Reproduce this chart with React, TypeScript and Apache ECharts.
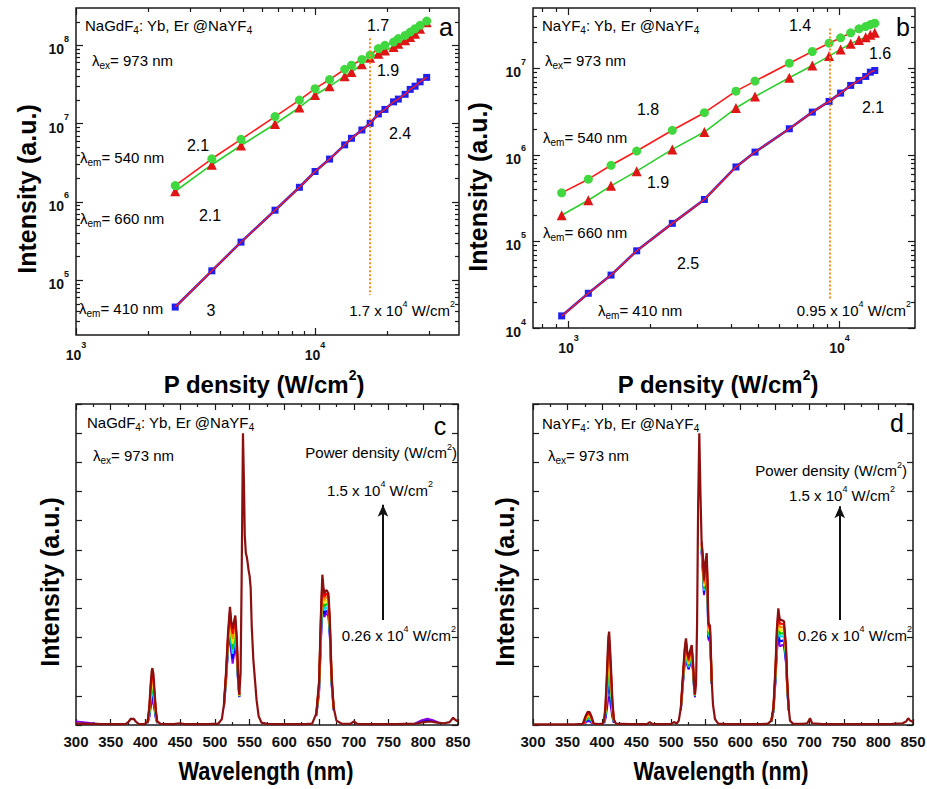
import React, { useEffect, useRef } from 'react';
import * as echarts from 'echarts';

// ---------- Panel a : NaGdF4:Yb,Er@NaYF4, intensity vs power density ----------
const A_P = [2600, 3700, 4900, 6800, 8600, 10000, 11500, 13300, 14200, 15700, 17000, 18400, 19600, 21300, 22300, 23800, 25000, 26200, 27500, 29300];
const A_540 = [1.62e6, 3.56e6, 6.3e6, 1.23e7, 2.0e7, 2.8e7, 3.66e7, 4.95e7, 5.57e7, 6.6e7, 7.5e7, 9.1e7, 1.0e8, 1.1e8, 1.22e8, 1.34e8, 1.48e8, 1.63e8, 1.8e8, 2.04e8];
const A_660 = [1.37e6, 2.99e6, 5.26e6, 9.9e6, 1.61e7, 2.32e7, 3.0e7, 4.04e7, 4.58e7, 5.74e7, 6.97e7, 7.8e7, 8.6e7, 9.5e7, 1.05e8, 1.16e8, 1.28e8, 1.41e8, 1.63e8, 1.98e8];
const A_410 = [4.55e4, 1.32e5, 3.07e5, 7.85e5, 1.54e6, 2.45e6, 3.53e6, 5.36e6, 6.5e6, 8.3e6, 1.01e7, 1.33e7, 1.52e7, 1.9e7, 2.06e7, 2.37e7, 2.74e7, 3.01e7, 3.42e7, 3.9e7];
const A_XRANGE = [1000, 40000];
const A_YRANGE = [2e4, 3e8];
const A_VLINE = [17000, 1.23e8, 6.5e4];

// ---------- Panel b : NaYF4:Yb,Er@NaYF4 ----------
const B_P = [944, 1184, 1436, 1786, 2417, 3174, 4150, 4880, 6532, 7940, 9155, 10100, 11000, 11800, 12500, 13000, 13500];
const B_540 = [3.65e5, 5.25e5, 7.6e5, 1.11e6, 1.93e6, 3.08e6, 5.47e6, 7.14e6, 1.15e7, 1.57e7, 1.96e7, 2.26e7, 2.58e7, 2.87e7, 3.05e7, 3.22e7, 3.33e7];
const B_660 = [2.01e5, 3.0e5, 4.4e5, 6.5e5, 1.16e6, 1.84e6, 3.49e6, 4.75e6, 7.8e6, 1.08e7, 1.39e7, 1.66e7, 1.93e7, 2.14e7, 2.3e7, 2.45e7, 2.58e7];
const B_410 = [1.38e4, 2.52e4, 4.09e4, 7.8e4, 1.62e5, 3.06e5, 7.27e5, 1.08e6, 2.01e6, 3.13e6, 4.16e6, 5.19e6, 6.37e6, 7.27e6, 8.09e6, 9.06e6, 9.48e6];
const B_XRANGE = [740, 19000];
const B_YRANGE = [1e4, 5e7];
const B_VLINE = [9200, 2.9e7, 2.2e4];

// ---------- Spectra ----------
const SPEC_COLORS = ['#ff0000', '#ff8c00', '#f2e600', '#00cc00', '#00d8ff', '#0000ff', '#8a00e6'];
const TOP_COLOR = '#8c1010';

// Panel c
const C_W = [300, 320, 340, 360, 372, 376, 379, 381, 383, 386, 390, 398, 403, 405.5, 407.5, 409, 410, 411.5, 413, 415, 417, 422, 440, 450, 456, 470, 490, 505, 510, 513, 516, 519, 521.7, 523.5, 525.5, 527.5, 529.4, 531.5, 533.5, 535.2, 537, 538.5, 540.4, 541.8, 543, 544.5, 546, 547.2, 548.5, 550, 551.5, 553, 555.3, 557.5, 560, 563, 567, 575, 590, 610, 630, 640, 646, 650, 652.5, 654.7, 656.3, 657.5, 659.2, 661, 663.5, 665.5, 668, 671, 675, 682, 695, 700, 705, 720, 760, 790, 800, 810, 820, 830, 838, 843, 846, 850];
const C_TOP = [0.05, 0.04, 0.03, 0.03, 0.04, 0.12, 0.22, 0.2, 0.22, 0.12, 0.04, 0.03, 0.1, 0.6, 1.4, 1.85, 1.95, 1.75, 1.2, 0.5, 0.12, 0.04, 0.03, 0.06, 0.03, 0.03, 0.03, 0.05, 0.2, 0.7, 1.8, 3.2, 4.05, 3.55, 3.3, 3.55, 3.75, 3.0, 1.7, 1.05, 1.8, 5.0, 10.0, 8.3, 6.5, 5.9, 5.75, 5.55, 5.3, 5.1, 4.7, 3.4, 2.25, 1.6, 0.85, 0.3, 0.08, 0.04, 0.03, 0.03, 0.03, 0.05, 0.4, 1.5, 3.7, 5.15, 4.7, 4.5, 4.6, 4.62, 4.5, 3.6, 1.7, 0.6, 0.15, 0.05, 0.04, 0.12, 0.04, 0.03, 0.03, 0.05, 0.1, 0.12, 0.08, 0.06, 0.1, 0.25, 0.18, 0.12];
const C_410_W = [403, 405.5, 407.5, 409, 410, 411.5, 413, 415, 417];
const C_410 = [
  [0.1, 0.55, 1.3, 1.68, 1.75, 1.58, 1.1, 0.45, 0.1],
  [0.1, 0.5, 1.15, 1.5, 1.58, 1.42, 1.0, 0.42, 0.1],
  [0.1, 0.45, 1.05, 1.35, 1.42, 1.28, 0.9, 0.38, 0.1],
  [0.08, 0.4, 0.95, 1.2, 1.27, 1.14, 0.8, 0.34, 0.08],
  [0.08, 0.35, 0.85, 1.07, 1.13, 1.02, 0.72, 0.3, 0.08],
  [0.07, 0.3, 0.72, 0.92, 0.98, 0.88, 0.62, 0.26, 0.07],
  [0.06, 0.25, 0.6, 0.78, 0.83, 0.75, 0.53, 0.22, 0.06],
];
const C_520_W = [513, 516, 519, 521.7, 523.5, 525.5, 527.5, 529.4, 531.5, 533.5, 535.2];
const C_520 = [
  [0.7, 1.75, 3.1, 3.92, 3.4, 3.12, 3.38, 3.6, 2.9, 1.65, 1.03],
  [0.68, 1.7, 3.0, 3.8, 3.25, 2.95, 3.22, 3.48, 2.8, 1.6, 1.02],
  [0.66, 1.66, 2.92, 3.68, 3.1, 2.78, 3.06, 3.34, 2.7, 1.56, 1.0],
  [0.65, 1.62, 2.84, 3.56, 2.95, 2.6, 2.9, 3.2, 2.6, 1.52, 0.99],
  [0.63, 1.58, 2.76, 3.44, 2.8, 2.44, 2.74, 3.06, 2.5, 1.48, 0.98],
  [0.62, 1.54, 2.68, 3.32, 2.65, 2.27, 2.57, 2.93, 2.4, 1.44, 0.96],
  [0.6, 1.5, 2.6, 3.2, 2.5, 2.1, 2.4, 2.8, 2.3, 1.4, 0.95],
];
const C_660_W = [646, 650, 652.5, 654.7, 656.3, 657.5, 659.2, 661, 663.5, 665.5, 668, 671];
const C_660 = [
  [0.38, 1.45, 3.58, 5.0, 4.57, 4.38, 4.47, 4.5, 4.38, 3.5, 1.66, 0.58],
  [0.37, 1.4, 3.45, 4.85, 4.45, 4.27, 4.35, 4.38, 4.27, 3.42, 1.62, 0.57],
  [0.36, 1.35, 3.3, 4.7, 4.33, 4.16, 4.24, 4.26, 4.16, 3.34, 1.58, 0.56],
  [0.35, 1.3, 3.15, 4.55, 4.2, 4.04, 4.12, 4.15, 4.05, 3.26, 1.54, 0.55],
  [0.34, 1.25, 3.02, 4.4, 4.07, 3.92, 4.0, 4.03, 3.93, 3.18, 1.5, 0.54],
  [0.33, 1.2, 2.9, 4.25, 3.93, 3.8, 3.88, 3.92, 3.82, 3.1, 1.45, 0.52],
  [0.3, 1.1, 2.75, 4.1, 3.8, 3.7, 3.78, 3.83, 3.72, 3.02, 1.4, 0.5],
];
const C_LOW_W = [300, 310, 320, 332];
const C_LOW_VIOLET = [0.12, 0.1, 0.07, 0.04];
const C_800_W = [788, 798, 806, 814, 824];
const C_800_BLUE = [0.05, 0.14, 0.18, 0.14, 0.06];
const C_800_VIOLET = [0.05, 0.17, 0.22, 0.17, 0.07];
const C_ARROW = [742, 3.6, 7.55];

// Panel d
const D_W = [300, 330, 360, 372, 376, 379, 382, 384.5, 388, 395, 401, 403, 405, 407, 409, 410.2, 411.5, 413, 415, 417, 420, 440, 465, 469, 473, 490, 500, 504, 508, 511, 514, 517, 519.5, 521.4, 523.3, 525.3, 527.5, 529.7, 531.5, 533, 534.5, 536, 537.5, 539, 540.7, 542.3, 544, 545.6, 547.5, 549.5, 551.4, 552.8, 553.8, 556.2, 557.5, 558.6, 560.5, 563.4, 568, 580, 600, 630, 640, 645, 648, 651, 653, 655.1, 656.3, 657.5, 659.5, 661.4, 663.3, 664.8, 666.2, 668, 670, 672, 676, 690, 697, 701, 704, 720, 780, 820, 835, 840, 843, 846, 850];
const D_TOP = [0.02, 0.02, 0.02, 0.04, 0.3, 0.45, 0.44, 0.3, 0.05, 0.03, 0.05, 0.15, 0.7, 1.8, 3.0, 3.2, 2.65, 1.9, 0.8, 0.2, 0.05, 0.03, 0.03, 0.1, 0.03, 0.03, 0.04, 0.1, 0.05, 0.15, 0.6, 1.7, 2.6, 2.97, 2.5, 2.3, 2.55, 2.74, 2.2, 1.5, 1.05, 1.4, 3.5, 7.5, 10, 8.0, 6.3, 5.85, 5.0, 5.6, 5.89, 4.8, 3.5, 3.4, 2.5, 1.55, 0.7, 0.2, 0.05, 0.03, 0.03, 0.03, 0.05, 0.15, 0.6, 2.0, 3.3, 4.0, 3.75, 3.6, 3.6, 3.58, 3.55, 3.1, 2.69, 1.5, 0.6, 0.15, 0.05, 0.04, 0.06, 0.23, 0.06, 0.03, 0.03, 0.04, 0.06, 0.12, 0.23, 0.15, 0.1];
const D_380_W = [374, 376, 379, 382, 384.5, 387];
const D_380 = [
  [0.04, 0.26, 0.4, 0.39, 0.26, 0.05],
  [0.04, 0.23, 0.35, 0.34, 0.23, 0.05],
  [0.04, 0.2, 0.3, 0.3, 0.2, 0.04],
  [0.03, 0.17, 0.26, 0.25, 0.17, 0.04],
  [0.03, 0.14, 0.22, 0.21, 0.14, 0.04],
  [0.03, 0.11, 0.18, 0.17, 0.11, 0.03],
  [0.03, 0.08, 0.14, 0.13, 0.08, 0.03],
];
const D_410_W = [403, 405, 407, 409, 410.2, 411.5, 413, 415, 417];
const D_410 = [
  [0.13, 0.63, 1.63, 2.72, 2.9, 2.42, 1.73, 0.73, 0.18],
  [0.12, 0.57, 1.46, 2.44, 2.6, 2.17, 1.55, 0.66, 0.16],
  [0.11, 0.5, 1.3, 2.16, 2.3, 1.92, 1.37, 0.58, 0.15],
  [0.1, 0.44, 1.13, 1.88, 2.0, 1.67, 1.19, 0.5, 0.13],
  [0.09, 0.37, 0.96, 1.6, 1.7, 1.42, 1.01, 0.43, 0.11],
  [0.08, 0.3, 0.76, 1.27, 1.35, 1.13, 0.8, 0.34, 0.09],
  [0.06, 0.22, 0.55, 0.91, 0.97, 0.81, 0.58, 0.25, 0.07],
];
const D_520_W = [514, 517, 519.5, 521.4, 523.3, 525.3, 527.5, 529.7, 531.5, 533, 534.5];
const D_520 = [
  [0.58, 1.65, 2.52, 2.9, 2.42, 2.22, 2.47, 2.67, 2.14, 1.47, 1.04],
  [0.57, 1.6, 2.45, 2.82, 2.35, 2.15, 2.4, 2.6, 2.09, 1.44, 1.03],
  [0.56, 1.56, 2.38, 2.75, 2.28, 2.09, 2.33, 2.53, 2.04, 1.41, 1.02],
  [0.55, 1.52, 2.31, 2.68, 2.21, 2.03, 2.26, 2.46, 1.99, 1.38, 1.01],
  [0.54, 1.48, 2.24, 2.6, 2.15, 1.98, 2.2, 2.4, 1.94, 1.35, 1.0],
  [0.52, 1.44, 2.17, 2.52, 2.1, 1.94, 2.15, 2.35, 1.9, 1.32, 0.98],
  [0.5, 1.4, 2.1, 2.45, 2.05, 1.9, 2.1, 2.3, 1.85, 1.3, 0.95],
];
const D_550_W = [544, 545.6, 547.5, 549.5, 551.4, 552.8, 553.8, 556.2, 557.5, 558.6];
const D_550 = [
  [6.25, 5.78, 4.92, 5.5, 5.78, 4.7, 3.42, 3.32, 2.45, 1.52],
  [6.2, 5.7, 4.84, 5.4, 5.66, 4.6, 3.34, 3.24, 2.4, 1.5],
  [6.15, 5.62, 4.76, 5.3, 5.54, 4.5, 3.26, 3.16, 2.35, 1.48],
  [6.1, 5.55, 4.68, 5.2, 5.42, 4.4, 3.18, 3.08, 2.3, 1.46],
  [6.05, 5.48, 4.6, 5.1, 5.3, 4.3, 3.1, 3.0, 2.25, 1.44],
  [6.0, 5.42, 4.52, 5.0, 5.18, 4.2, 3.02, 2.92, 2.2, 1.42],
  [5.95, 5.36, 4.45, 4.9, 5.06, 4.1, 2.95, 2.85, 2.15, 1.4],
];
const D_660_W = [645, 648, 651, 653, 655.1, 656.3, 657.5, 659.5, 661.4, 663.3, 664.8, 666.2, 668, 670];
const D_660 = [
  [0.15, 0.58, 1.93, 3.2, 3.87, 3.62, 3.47, 3.47, 3.46, 3.43, 3.0, 2.6, 1.46, 0.59],
  [0.14, 0.56, 1.86, 3.1, 3.74, 3.5, 3.35, 3.36, 3.35, 3.32, 2.92, 2.52, 1.42, 0.58],
  [0.14, 0.54, 1.79, 3.0, 3.61, 3.38, 3.24, 3.25, 3.24, 3.21, 2.83, 2.44, 1.38, 0.57],
  [0.13, 0.52, 1.72, 2.9, 3.48, 3.26, 3.13, 3.14, 3.14, 3.1, 2.75, 2.36, 1.34, 0.56],
  [0.13, 0.5, 1.65, 2.8, 3.36, 3.14, 3.02, 3.04, 3.04, 3.0, 2.66, 2.28, 1.3, 0.55],
  [0.12, 0.48, 1.58, 2.65, 3.18, 2.97, 2.86, 2.88, 2.9, 2.85, 2.53, 2.19, 1.25, 0.52],
  [0.12, 0.45, 1.5, 2.5, 3.0, 2.8, 2.7, 2.72, 2.75, 2.7, 2.4, 2.1, 1.2, 0.5],
];
const D_ARROW = [744, 3.6, 7.5];

const SPEC_XRANGE = [300, 850];
const SPEC_YRANGE = [0, 11];

// ---------- styling ----------
const FONT = '"Liberation Sans", Arial, Helvetica, sans-serif';
const TICK = { color: '#1a1a1a', width: 1.2 };

const GRIDS = [
  { left: 76, top: 8, width: 383, height: 327 },
  { left: 533, top: 8, width: 382, height: 320 },
  { left: 76, top: 404, width: 382, height: 321 },
  { left: 533, top: 404, width: 380, height: 321 },
];

const zip = (xs: number[], ys: number[]) => xs.slice(0, Math.min(xs.length, ys.length)).map((x, i) => [x, ys[i]]);

function majorTicks(min: number, max: number) {
  const out: number[] = [];
  for (let e = Math.ceil(Math.log10(min) - 1e-9); e <= Math.floor(Math.log10(max) + 1e-9); e++) out.push(Math.pow(10, e));
  return out;
}
function minorTicks(min: number, max: number) {
  const out: number[] = [];
  for (let e = Math.floor(Math.log10(min)); e <= Math.ceil(Math.log10(max)); e++) {
    for (let m = 2; m <= 9; m++) {
      const v = m * Math.pow(10, e);
      if (v > min * 1.0001 && v < max * 0.9999) out.push(v);
    }
  }
  return out;
}

const POW_RICH = {
  b: { fontSize: 14, fontWeight: 'bold', fontFamily: FONT, color: '#111', lineHeight: 22, verticalAlign: 'bottom' },
  s: { fontSize: 9, fontWeight: 'bold', fontFamily: FONT, color: '#111', lineHeight: 10, verticalAlign: 'top' },
};
const powLabel = (v: number) => `{b|10}{s|${Math.round(Math.log10(v))}}`;

function logAxes(kind: 'x' | 'y', gridIndex: number, range: number[]) {
  const [min, max] = range;
  const pos = kind === 'x' ? ['bottom', 'top'] : ['left', 'right'];
  const majors = majorTicks(min, max);
  const minors = minorTicks(min, max);
  const base: any = {
    type: 'log', logBase: 10, gridIndex, min, max,
    axisLine: { show: false, onZero: false },
    splitLine: { show: false }, minorTick: { show: false }, minorSplitLine: { show: false },
  };
  return [
    { ...base, position: pos[0], axisTick: { show: true, inside: true, length: 7, lineStyle: TICK, customValues: majors },
      axisLabel: { show: true, customValues: majors, formatter: powLabel, rich: POW_RICH, margin: kind === 'x' ? 5 : 7 } },
    { ...base, position: pos[0], axisTick: { show: true, inside: true, length: 4, lineStyle: TICK, customValues: minors }, axisLabel: { show: false } },
    { ...base, position: pos[1], axisTick: { show: true, inside: true, length: 7, lineStyle: TICK, customValues: majors }, axisLabel: { show: false } },
    { ...base, position: pos[1], axisTick: { show: true, inside: true, length: 4, lineStyle: TICK, customValues: minors }, axisLabel: { show: false } },
  ];
}

function specXAxes(gridIndex: number) {
  const base: any = {
    type: 'value', gridIndex, min: SPEC_XRANGE[0], max: SPEC_XRANGE[1], interval: 50,
    axisLine: { show: false, onZero: false }, splitLine: { show: false },
    axisTick: { show: true, inside: true, length: 6, lineStyle: TICK },
    minorTick: { show: true, splitNumber: 2, length: 3, lineStyle: TICK },
  };
  return [
    { ...base, position: 'bottom', axisLabel: { show: true, fontFamily: FONT, fontWeight: 'bold', fontSize: 15, color: '#111', margin: 9 } },
    { ...base, position: 'top', axisLabel: { show: false } },
  ];
}
function specYAxes(gridIndex: number) {
  const base: any = {
    type: 'value', gridIndex, min: SPEC_YRANGE[0], max: SPEC_YRANGE[1], interval: 1,
    axisLine: { show: false, onZero: false }, splitLine: { show: false },
    axisTick: { show: true, inside: true, length: 6, lineStyle: TICK },
    axisLabel: { show: false },
  };
  return [{ ...base, position: 'left' }, { ...base, position: 'right' }];
}

const RICH: any = {
  n: { fontSize: 15, fontFamily: FONT, color: '#222', lineHeight: 20, verticalAlign: 'middle' },
  sb: { fontSize: 10, fontFamily: FONT, color: '#222', lineHeight: 10, verticalAlign: 'bottom' },
  m: { fontSize: 15, fontFamily: FONT, color: '#222', lineHeight: 22, verticalAlign: 'middle' },
  sp: { fontSize: 9, fontFamily: FONT, color: '#222', lineHeight: 10, verticalAlign: 'top' },
  k: { fontSize: 16, fontFamily: FONT, color: '#222' },
  L: { fontSize: 25, fontFamily: FONT, color: '#111' },
  t: { fontSize: 24, fontWeight: 'bold', fontFamily: FONT, color: '#000', lineHeight: 32, verticalAlign: 'middle' },
  ts: { fontSize: 14, fontWeight: 'bold', fontFamily: FONT, color: '#000', lineHeight: 14, verticalAlign: 'top' },
};

function T(x: number, y: number, text: string, align = 'left', rotation = 0) {
  return { type: 'text', x, y, rotation, silent: true, z: 50, style: { text, rich: RICH, align, verticalAlign: 'middle' } };
}
function title(x: number, y: number, text: string, fontSize: number, rotation = 0, scaleX = 1) {
  return { type: 'text', x, y, rotation, scaleX, silent: true, z: 50,
    style: { text, fontSize, fontWeight: 'bold', fontFamily: FONT, fill: '#000', align: 'center', verticalAlign: 'middle' } };
}

function buildOption() {
  const xAxis: any[] = [];
  const yAxis: any[] = [];
  const series: any[] = [];

  const logPanels = [
    { grid: 0, xr: A_XRANGE, yr: A_YRANGE, p: A_P, s540: A_540, s660: A_660, s410: A_410, vline: A_VLINE },
    { grid: 1, xr: B_XRANGE, yr: B_YRANGE, p: B_P, s540: B_540, s660: B_660, s410: B_410, vline: B_VLINE },
  ];
  logPanels.forEach((pn) => {
    const xi = xAxis.length;
    const yi = yAxis.length;
    xAxis.push(...logAxes('x', pn.grid, pn.xr));
    yAxis.push(...logAxes('y', pn.grid, pn.yr));
    series.push({
      type: 'line', xAxisIndex: xi, yAxisIndex: yi, data: zip(pn.p, pn.s660), symbol: 'triangle', symbolSize: 10,
      showAllSymbol: true, itemStyle: { color: '#e01515' }, lineStyle: { color: '#2ccf2c', width: 1.6 }, z: 3, silent: true,
    });
    series.push({
      type: 'line', xAxisIndex: xi, yAxisIndex: yi, data: zip(pn.p, pn.s540), symbol: 'circle', symbolSize: 9,
      showAllSymbol: true, itemStyle: { color: '#3fd83f' }, lineStyle: { color: '#ff1a1a', width: 1.6 }, z: 4, silent: true,
    });
    series.push({
      type: 'line', xAxisIndex: xi, yAxisIndex: yi, data: zip(pn.p, pn.s410), symbol: 'rect', symbolSize: 7,
      showAllSymbol: true, itemStyle: { color: '#1f1ff0' }, lineStyle: { color: '#1f1ff0', width: 2.6 }, z: 3, silent: true,
    });
    series.push({
      type: 'line', xAxisIndex: xi, yAxisIndex: yi, data: zip(pn.p, pn.s410), symbol: 'none',
      lineStyle: { color: '#ff1a1a', width: 1.3 }, z: 5, silent: true,
      markLine: {
        silent: true, symbol: ['none', 'none'], label: { show: false },
        lineStyle: { color: '#ff8c1a', type: 'dotted', width: 2 },
        data: [[{ coord: [pn.vline[0], pn.vline[1]] }, { coord: [pn.vline[0], pn.vline[2]] }]],
      },
    });
  });

  const specPanels = [
    { grid: 2, w: C_W, top: C_TOP, regions: [[C_410_W, C_410], [C_520_W, C_520], [C_660_W, C_660]], arrow: C_ARROW,
      extras: [[C_LOW_W, C_LOW_VIOLET, 6], [C_800_W, C_800_BLUE, 5], [C_800_W, C_800_VIOLET, 6]] },
    { grid: 3, w: D_W, top: D_TOP, regions: [[D_380_W, D_380], [D_410_W, D_410], [D_520_W, D_520], [D_550_W, D_550], [D_660_W, D_660]], arrow: D_ARROW,
      extras: [] as any[] },
  ];
  specPanels.forEach((pn) => {
    const xi = xAxis.length;
    const yi = yAxis.length;
    xAxis.push(...specXAxes(pn.grid));
    yAxis.push(...specYAxes(pn.grid));
    pn.extras.forEach((ex: any) => {
      series.push({ type: 'line', xAxisIndex: xi, yAxisIndex: yi, data: zip(ex[0], ex[1]), symbol: 'none',
        lineStyle: { color: SPEC_COLORS[ex[2]], width: 1.8 }, z: 2, silent: true });
    });
    for (let k = SPEC_COLORS.length - 1; k >= 0; k--) {
      pn.regions.forEach((rg: any) => {
        series.push({ type: 'line', xAxisIndex: xi, yAxisIndex: yi, data: zip(rg[0], rg[1][k]), symbol: 'none',
          lineStyle: { color: SPEC_COLORS[k], width: 2 }, z: 2, silent: true });
      });
    }
    series.push({
      type: 'line', xAxisIndex: xi, yAxisIndex: yi, data: zip(pn.w, pn.top), symbol: 'none',
      lineStyle: { color: TOP_COLOR, width: 2.2 }, z: 3, silent: true,
      markLine: {
        silent: true, symbol: ['none', 'arrow'], symbolSize: [8, 12], label: { show: false },
        lineStyle: { color: '#111', type: 'solid', width: 2 },
        data: [[{ coord: [pn.arrow[0], pn.arrow[1]] }, { coord: [pn.arrow[0], pn.arrow[2]] }]],
      },
    });
  });

  const graphic: any[] = [
    title(27, 189, 'Intensity (a.u.)', 25, Math.PI / 2),
    title(478, 187, 'Intensity (a.u.)', 25, Math.PI / 2),
    title(50, 582, 'Intensity (a.u.)', 25, Math.PI / 2),
    title(505, 582, 'Intensity (a.u.)', 25, Math.PI / 2),
    T(264, 384, '{t|P density (W/cm}{ts|2}{t|)}', 'center'),
    T(718, 384, '{t|P density (W/cm}{ts|2}{t|)}', 'center'),
    title(266, 771, 'Wavelength (nm)', 26, 0, 0.84),
    title(721, 771, 'Wavelength (nm)', 26, 0, 0.84),

    T(85, 25, '{n|NaGdF}{sb|4}{n|: Yb, Er @NaYF}{sb|4}'),
    T(92, 60, '{n|λ}{sb|ex}{n|= 973 nm}'),
    T(80, 157, '{n|λ}{sb|em}{n|= 540 nm}'),
    T(80, 218, '{n|λ}{sb|em}{n|= 660 nm}'),
    T(79, 308, '{n|λ}{sb|em}{n|= 410 nm}'),
    T(198, 145, '{k|2.1}', 'center'),
    T(210, 215, '{k|2.1}', 'center'),
    T(211, 310, '{k|3}', 'center'),
    T(378, 25, '{k|1.7}', 'center'),
    T(388, 70, '{k|1.9}', 'center'),
    T(400, 133, '{k|2.4}', 'center'),
    T(446, 27, '{L|a}', 'center'),
    T(455, 310, '{m|1.7 x 10}{sp|4}{m| W/cm}{sp|2}', 'right'),

    T(542, 25, '{n|NaYF}{sb|4}{n|: Yb, Er @NaYF}{sb|4}'),
    T(545, 60, '{n|λ}{sb|ex}{n|= 973 nm}'),
    T(543, 137, '{n|λ}{sb|em}{n|= 540 nm}'),
    T(543, 232, '{n|λ}{sb|em}{n|= 660 nm}'),
    T(598, 310, '{n|λ}{sb|em}{n|= 410 nm}'),
    T(648, 109, '{k|1.8}', 'center'),
    T(658, 182, '{k|1.9}', 'center'),
    T(688, 263, '{k|2.5}', 'center'),
    T(800, 25, '{k|1.4}', 'center'),
    T(880, 53, '{k|1.6}', 'center'),
    T(873, 107, '{k|2.1}', 'center'),
    T(903, 27, '{L|b}', 'center'),
    T(911, 310, '{m|0.95 x 10}{sp|4}{m| W/cm}{sp|2}', 'right'),

    T(87, 422, '{n|NaGdF}{sb|4}{n|: Yb, Er @NaYF}{sb|4}'),
    T(93, 455, '{n|λ}{sb|ex}{n|= 973 nm}'),
    T(440, 426, '{L|c}', 'center'),
    T(457, 452, '{n|Power density (W/cm}{sp|2}{n|)}', 'right'),
    T(380, 490, '{m|1.5 x 10}{sp|4}{m| W/cm}{sp|2}', 'center'),
    T(456, 635, '{m|0.26 x 10}{sp|4}{m| W/cm}{sp|2}', 'right'),

    T(542, 423, '{n|NaYF}{sb|4}{n|: Yb, Er @NaYF}{sb|4}'),
    T(548, 455, '{n|λ}{sb|ex}{n|= 973 nm}'),
    T(897, 423, '{L|d}', 'center'),
    T(907, 470, '{n|Power density (W/cm}{sp|2}{n|)}', 'right'),
    T(842, 495, '{m|1.5 x 10}{sp|4}{m| W/cm}{sp|2}', 'center'),
    T(912, 635, '{m|0.26 x 10}{sp|4}{m| W/cm}{sp|2}', 'right'),
  ];

  return {
    animation: false,
    backgroundColor: '#ffffff',
    grid: GRIDS.map((g) => ({ ...g, show: true, borderColor: '#1a1a1a', borderWidth: 1.5, backgroundColor: 'transparent', containLabel: false, outerBoundsMode: 'none' })),
    xAxis,
    yAxis,
    series,
    graphic,
  };
}

export default function App() {
  const ref = useRef<HTMLDivElement>(null);
  useEffect(() => {
    document.body.style.margin = '0';
    const chart = echarts.init(ref.current as HTMLDivElement, undefined, { renderer: 'svg', width: 927, height: 789 });
    chart.setOption(buildOption() as any);
    return () => chart.dispose();
  }, []);
  return <div ref={ref} style={{ position: 'absolute', left: 0, top: 0, width: 927, height: 789, background: '#fff' }} />;
}
